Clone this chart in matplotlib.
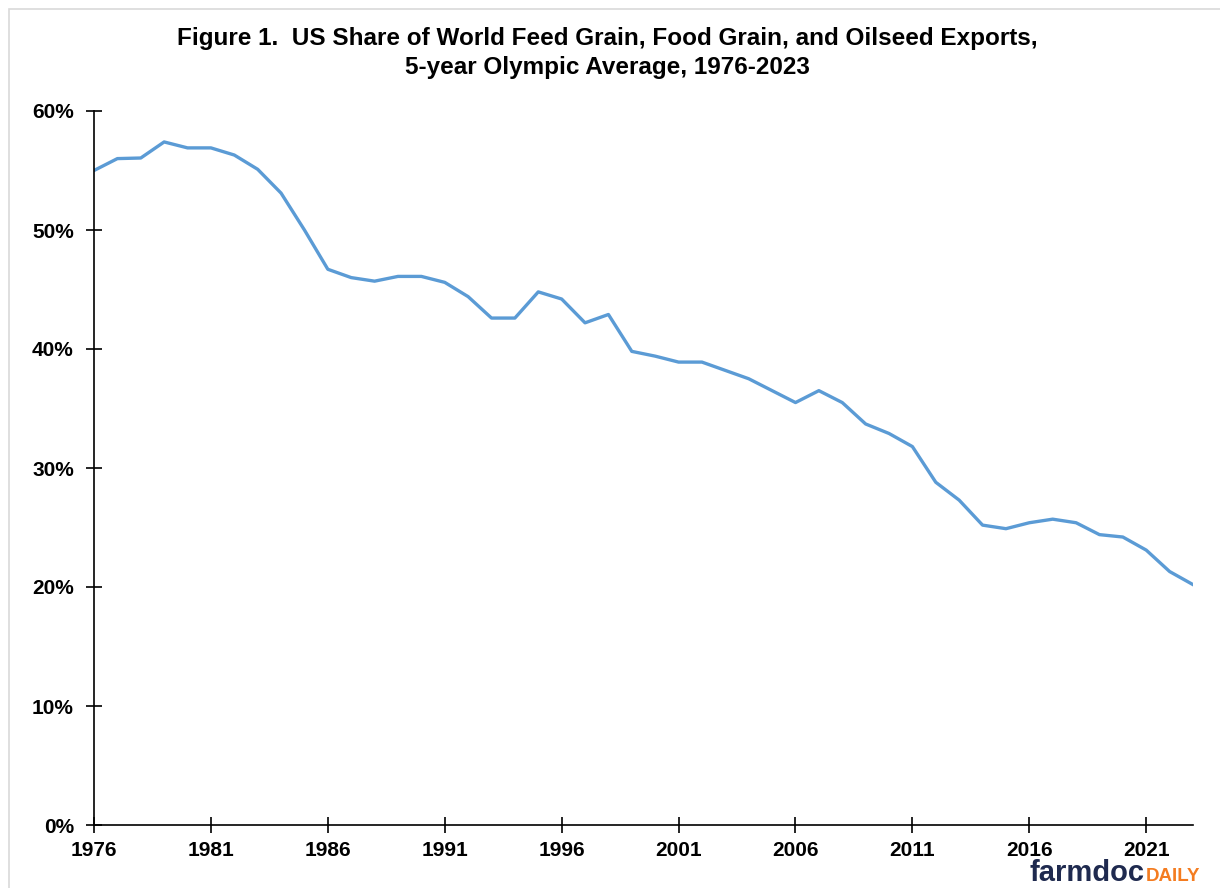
import matplotlib.pyplot as plt
from matplotlib.patches import Rectangle
from matplotlib.ticker import FuncFormatter

years = list(range(1976, 2024))
share = [55.0, 56.0, 56.05, 57.4, 56.9, 56.9, 56.3, 55.1, 53.1, 50.0,
         46.7, 46.0, 45.7, 46.1, 46.1, 45.6, 44.4, 42.6, 42.6, 44.8,
         44.2, 42.2, 42.9, 39.8, 39.4, 38.9, 38.9, 38.2, 37.5, 36.5,
         35.5, 36.5, 35.5, 33.7, 32.9, 31.8, 28.8, 27.3, 25.2, 24.9,
         25.4, 25.7, 25.4, 24.4, 24.2, 23.1, 21.3, 20.2]
xticks = list(range(1976, 2024, 5))
yticks = [0, 10, 20, 30, 40, 50, 60]

plt.rcParams['font.family'] = ['Liberation Sans', 'DejaVu Sans']

fig = plt.figure(figsize=(12.2, 8.88), dpi=100)
# light gray chart border
fig.patches.append(Rectangle((9/1220, -0.1), 1.2, 1 - 9/888 + 0.1,
                             transform=fig.transFigure, fill=False,
                             edgecolor='#d9d9d9', linewidth=1.2))

ax = fig.add_axes([94/1220, 1 - 825/888, (1193 - 94)/1220, (825 - 111)/888])
ax.plot(years, share, color='#5b9bd5', linewidth=2.4)

ax.set_xlim(1976, 2023)
ax.set_ylim(0, 60)
ax.set_xticks(xticks)
ax.set_yticks(yticks)
ax.yaxis.set_major_formatter(FuncFormatter(lambda v, p: f"{v:.0f}%"))
for s in ['top', 'right']:
    ax.spines[s].set_visible(False)
for s in ['left', 'bottom']:
    ax.spines[s].set_linewidth(1.2)
ax.tick_params(direction='inout', length=11, width=1.2, labelsize=15)
ax.tick_params(axis='y', pad=9)
ax.tick_params(axis='x', pad=6)
for lab in ax.get_xticklabels() + ax.get_yticklabels():
    lab.set_fontweight('bold')

fig.text(0.498, 1 - 38/888, "Figure 1.  US Share of World Feed Grain, Food Grain, and Oilseed Exports,",
         ha='center', va='center', fontsize=17.5, fontweight='bold')
fig.text(0.498, 1 - 67/888, "5-year Olympic Average, 1976-2023",
         ha='center', va='center', fontsize=17.5, fontweight='bold')

# logo, kept inside the picture
logo1 = fig.text(1030/1220, 1 - 881/888, "farmdoc", ha='left', va='baseline',
                 fontsize=21, fontweight='bold', color='#1f2a4f')
fig.canvas.draw()
bb = logo1.get_window_extent()
fig.text(bb.x1/1220 + 0.001, 1 - 881/888, "DAILY", ha='left', va='baseline',
         fontsize=13.5, fontweight='bold', color='#f47c20')

fig.savefig('out.png', dpi=100)
